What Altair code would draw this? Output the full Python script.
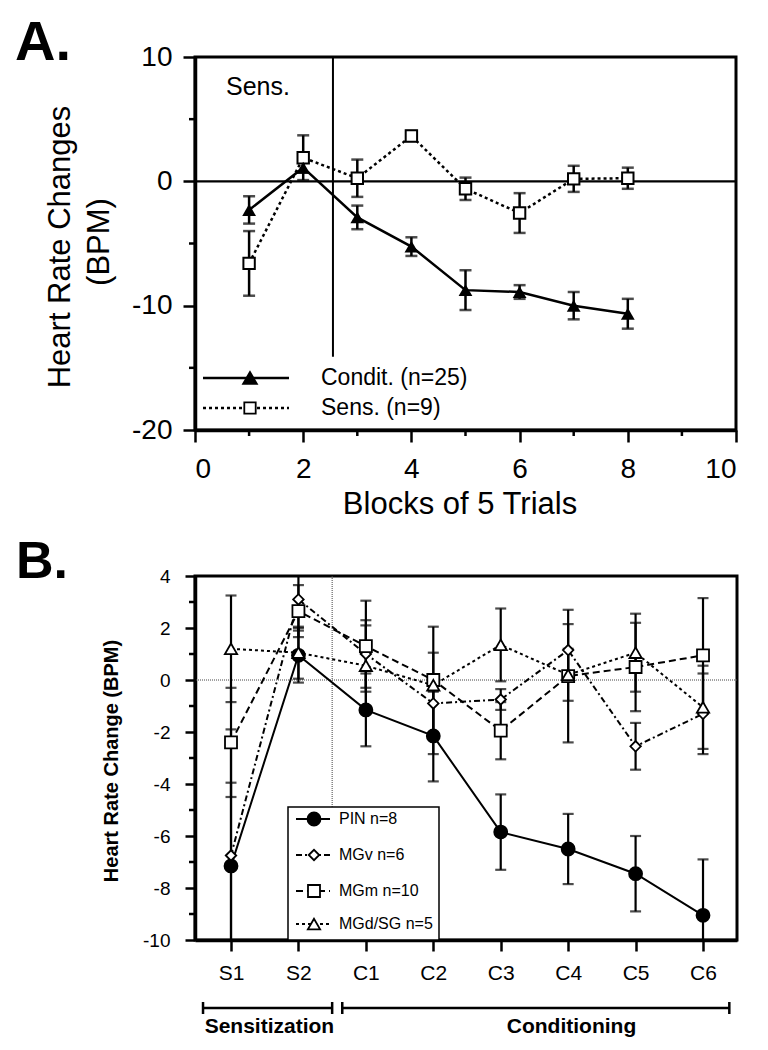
import json
import altair as alt
import pandas as pd

FONT = "Liberation Sans"

# ---------------- Panel A data ----------------
blocks = [1, 2, 3, 4, 5, 6, 7, 8]
condit_mean = [-2.3, 1.1, -2.9, -5.25, -8.75, -8.9, -10.0, -10.65]
condit_err = [1.1, 0.4, 0.95, 0.75, 1.6, 0.55, 1.1, 1.2]
sens_mean = [-6.6, 1.9, 0.25, 3.65, -0.6, -2.55, 0.2, 0.25]
sens_err = [2.6, 1.8, 1.5, 0.4, 0.9, 1.6, 1.05, 0.85]
a_x_ticks = [0, 2, 4, 6, 8, 10]
a_x_minor = [1, 3, 5, 7, 9]
a_y_ticks = [-20, -10, 0, 10]
a_y_minor = [-15, -5, 5]
a_boundary_x = [2.55]
a_boundary_top = [10]
a_boundary_bottom = [-14.1]

# ---------------- Panel B data ----------------
categories = ["S1", "S2", "C1", "C2", "C3", "C4", "C5", "C6"]
cat_idx = [1, 2, 3, 4, 5, 6, 7, 8]
pin_mean = [-7.15, 0.95, -1.15, -2.15, -5.85, -6.5, -7.45, -9.05]
pin_err = [3.2, 1.05, 1.4, 1.75, 1.45, 1.35, 1.45, 2.15]
mgv_mean = [-6.75, 3.1, 1.0, -0.9, -0.75, 1.15, -2.55, -1.3]
mgv_err = [4.85, 1.2, 1.3, 1.95, 0.4, 1.0, 0.9, 1.55]
mgm_mean = [-2.4, 2.65, 1.3, 0.0, -1.95, 0.15, 0.5, 0.95]
mgm_err = [2.1, 1.0, 1.75, 2.05, 1.1, 2.55, 1.7, 2.2]
mgd_mean = [1.2, 1.05, 0.55, -0.2, 1.35, 0.2, 1.05, -1.05]
mgd_err = [2.05, 1.0, 1.55, 0.25, 1.4, 1.0, 1.5, 1.6]
b_y_ticks = [-10, -8, -6, -4, -2, 0, 2, 4]
b_y_minor = [-9, -7, -5, -3, -1, 1, 3]
b_boundary_x = [2.5]
b_boundary_top = [4]
b_boundary_bottom = [-4.9]
phases = ["Sensitization", "Conditioning"]
phase_start = [0.585, 2.65]
phase_end = [2.5, 8.39]
phase_label_x = [1.57, 6.05]


def series_df(xs, means, errs):
    return pd.DataFrame({
        "x": xs, "y": means,
        "lo": [m - e for m, e in zip(means, errs)],
        "hi": [m + e for m, e in zip(means, errs)],
    })


def caps_df(df):
    return pd.DataFrame({"x": list(df["x"]) * 2, "c": list(df["lo"]) + list(df["hi"])})


def one():
    return pd.DataFrame({"a": [0]})


def text_layer(text, x, y, size, weight="normal", align="left", baseline="middle", angle=0):
    return alt.Chart(pd.DataFrame({"t": [text]})).mark_text(
        font=FONT, fontSize=size, fontWeight=weight, align=align,
        baseline=baseline, angle=angle, color="black"
    ).encode(x=alt.value(x), y=alt.value(y), text="t:N")


def seg(x1, x2, y, dash=None, width=2.5):
    kw = {"strokeDash": dash} if dash else {}
    return alt.Chart(one()).mark_rule(color="black", strokeWidth=width, **kw).encode(
        x=alt.value(x1), x2=alt.value(x2), y=alt.value(y))


def sym(x, y, shape, filled, size):
    return alt.Chart(one()).mark_point(
        shape=shape, size=size, filled=True, fill="black" if filled else "white",
        stroke="black", strokeWidth=1.8, opacity=1, fillOpacity=1
    ).encode(x=alt.value(x), y=alt.value(y))


# ================= Panel A =================
WA, HA = 541, 373
sc_ax = alt.Scale(domain=[0, 10], nice=False, zero=False)
sc_ay = alt.Scale(domain=[-20, 10], nice=False, zero=False)
axis_ax = alt.Axis(values=a_x_ticks, tickSize=12, labelFontSize=28, labelPadding=13,
                   title=None, labelExpr="'' + datum.value", grid=False, labelAngle=0)
axis_ay = alt.Axis(values=a_y_ticks, tickSize=12, labelFontSize=28, labelPadding=11,
                   title=None, labelExpr="'' + datum.value", grid=False)


def XA(f):
    return alt.X(f"{f}:Q", scale=sc_ax, axis=axis_ax)


def YA(f):
    return alt.Y(f"{f}:Q", scale=sc_ay, axis=axis_ay)


condA = series_df(blocks, condit_mean, condit_err)
sensA = series_df(blocks, sens_mean, sens_err)

zeroA = alt.Chart(pd.DataFrame({"y": [0]})).mark_rule(color="black", strokeWidth=2.2).encode(y=YA("y"))
boundA = alt.Chart(pd.DataFrame({"x": a_boundary_x, "y": a_boundary_top, "y2": a_boundary_bottom})).mark_rule(
    color="black", strokeWidth=2).encode(x=XA("x"), y=YA("y"), y2="y2:Q")
minxA = alt.Chart(pd.DataFrame({"v": a_x_minor})).mark_rule(color="black", strokeWidth=2.5).encode(
    x=XA("v"), y=alt.value(HA), y2=alt.value(HA + 6))
minyA = alt.Chart(pd.DataFrame({"v": a_y_minor})).mark_rule(color="black", strokeWidth=2.5).encode(
    y=YA("v"), x=alt.value(-6), x2=alt.value(0))

sens_line = alt.Chart(sensA).mark_line(color="black", strokeWidth=2.5, strokeDash=[3, 3]).encode(x=XA("x"), y=YA("y"))
cond_line = alt.Chart(condA).mark_line(color="black", strokeWidth=2.5).encode(x=XA("x"), y=YA("y"))


def errA(df):
    r = alt.Chart(df).mark_rule(color="black", strokeWidth=2.5).encode(x=XA("x"), y=YA("lo"), y2="hi:Q")
    c = alt.Chart(caps_df(df)).mark_tick(color="black", orient="horizontal", size=12, thickness=2.5).encode(
        x=XA("x"), y=YA("c"))
    return [r, c]


sens_pts = alt.Chart(sensA).mark_point(shape="square", size=130, filled=True, fill="white", stroke="black",
                                       strokeWidth=2, opacity=1).encode(x=XA("x"), y=YA("y"))
cond_pts = alt.Chart(condA).mark_point(shape="triangle-up", size=190, filled=True, fill="black",
                                       opacity=1).encode(x=XA("x"), y=YA("y"))

layersA = [zeroA, boundA, minxA, minyA, sens_line, cond_line] + errA(sensA) + errA(condA) + [sens_pts, cond_pts]
layersA += [
    seg(8, 94, 321), sym(55, 321, "triangle-up", True, 190),
    seg(8, 94, 351, dash=[3, 3]), sym(55, 351, "square", False, 130),
    text_layer("Condit. (n=25)", 126, 321, 23),
    text_layer("Sens. (n=9)", 126, 351, 23),
    text_layer("Sens.", 31, 30, 25),
    text_layer("A.", -180, 3, 56, weight="bold", baseline="alphabetic"),
    text_layer("Heart Rate Changes", -134, 190, 31, align="center", angle=270),
    text_layer("(BPM)", -95, 185, 31, align="center", angle=270),
    text_layer("Blocks of 5 Trials", 265, 457, 31, align="center", baseline="alphabetic"),
]
panelA = alt.layer(*layersA).properties(width=WA, height=HA)

# ================= Panel B =================
WB, HB = 542, 364
sc_bx = alt.Scale(domain=[0.466, 8.504], nice=False, zero=False)
sc_by = alt.Scale(domain=[-10, 4], nice=False, zero=False)
axis_bx = alt.Axis(values=cat_idx, tickSize=11, labelFontSize=21, labelPadding=11, title=None,
                   labelExpr=json.dumps(categories) + "[datum.value - 1]", grid=False, labelAngle=0)
axis_by = alt.Axis(values=b_y_ticks, tickSize=10, labelFontSize=19, labelPadding=15, title=None,
                   labelExpr="'' + datum.value", grid=False)


def XB(f):
    return alt.X(f"{f}:Q", scale=sc_bx, axis=axis_bx)


def YB(f):
    return alt.Y(f"{f}:Q", scale=sc_by, axis=axis_by)


series_b = [
    ("PIN n=8", pin_mean, pin_err, "circle", True, None, 169),
    ("MGv n=6", mgv_mean, mgv_err, "diamond", False, [6, 3, 2, 3], 110),
    ("MGm n=10", mgm_mean, mgm_err, "square", False, [7, 4], 144),
    ("MGd/SG n=5", mgd_mean, mgd_err, "triangle-up", False, [3, 3], 150),
]

zeroB = alt.Chart(pd.DataFrame({"y": [0]})).mark_rule(color="#444", strokeWidth=1, strokeDash=[1, 1]).encode(y=YB("y"))
boundB = alt.Chart(pd.DataFrame({"x": b_boundary_x, "y": b_boundary_top, "y2": b_boundary_bottom})).mark_rule(
    color="#444", strokeWidth=1, strokeDash=[1, 1]).encode(x=XB("x"), y=YB("y"), y2="y2:Q")
minyB = alt.Chart(pd.DataFrame({"v": b_y_minor})).mark_rule(color="black", strokeWidth=2.5).encode(
    y=YB("v"), x=alt.value(-6), x2=alt.value(0))

lines_b, errs_b, pts_b = [], [], []
for name, mean, err, shape, filled, dash, size in series_b:
    df = series_df(cat_idx, mean, err)
    kw = {"strokeDash": dash} if dash else {}
    lines_b.append(alt.Chart(df).mark_line(color="black", strokeWidth=2, **kw).encode(x=XB("x"), y=YB("y")))
    errs_b.append(alt.Chart(df).mark_rule(color="black", strokeWidth=2.2, clip=True).encode(
        x=XB("x"), y=YB("lo"), y2="hi:Q"))
    errs_b.append(alt.Chart(caps_df(df)).mark_tick(color="black", orient="horizontal", size=11,
                                                   thickness=2.2, clip=True).encode(x=XB("x"), y=YB("c")))
    pts_b.append(alt.Chart(df).mark_point(shape=shape, size=size, filled=True,
                                          fill="black" if filled else "white", stroke="black",
                                          strokeWidth=1.8, opacity=1).encode(x=XB("x"), y=YB("y")))

legend_b = [alt.Chart(one()).mark_rect(fill="white", stroke="black", strokeWidth=1.5).encode(
    x=alt.value(93), x2=alt.value(244), y=alt.value(231), y2=alt.value(364))]
for (name, mean, err, shape, filled, dash, size), ly in zip(series_b, [243, 279, 315, 348]):
    legend_b += [seg(101, 135, ly, dash=dash, width=2), sym(119, ly, shape, filled, size),
                 text_layer(name, 144, ly, 16)]

phase_df = pd.DataFrame({"phase": phases, "s": phase_start, "e": phase_end, "lx": phase_label_x})
phase_ends = pd.DataFrame({"x": phase_start + phase_end})
brk = alt.Chart(phase_df).mark_rule(color="black", strokeWidth=2.5).encode(
    x=XB("s"), x2="e:Q", y=alt.value(432))
brk_ends = alt.Chart(phase_ends).mark_rule(color="black", strokeWidth=2.5).encode(
    x=XB("x"), y=alt.value(426), y2=alt.value(438))
brk_lab = alt.Chart(phase_df).mark_text(font=FONT, fontSize=21, fontWeight="bold", align="center",
                                        baseline="alphabetic", color="black").encode(
    x=XB("lx"), y=alt.value(457), text="phase:N")

layersB = [zeroB, boundB, minyB] + lines_b + errs_b + pts_b + legend_b + [brk, brk_ends, brk_lab]
layersB += [
    text_layer("B.", -179, 2, 52, weight="bold", baseline="alphabetic"),
    text_layer("Heart Rate Change (BPM)", -83, 185, 20, weight="bold", align="center", angle=270),
]
panelB = alt.layer(*layersB).properties(width=WB, height=HB)

chart = alt.vconcat(panelA, panelB, spacing=12).properties(
    padding={"left": 5, "top": 5, "right": 5, "bottom": 5}, background="white"
).configure_view(stroke="black", strokeWidth=3).configure_axis(
    domainColor="black", domainWidth=3.5, tickColor="black", tickWidth=2.5,
    labelColor="black", labelFont=FONT, grid=False
)

chart.save("out.html", embed_options={"renderer": "svg", "actions": False})
